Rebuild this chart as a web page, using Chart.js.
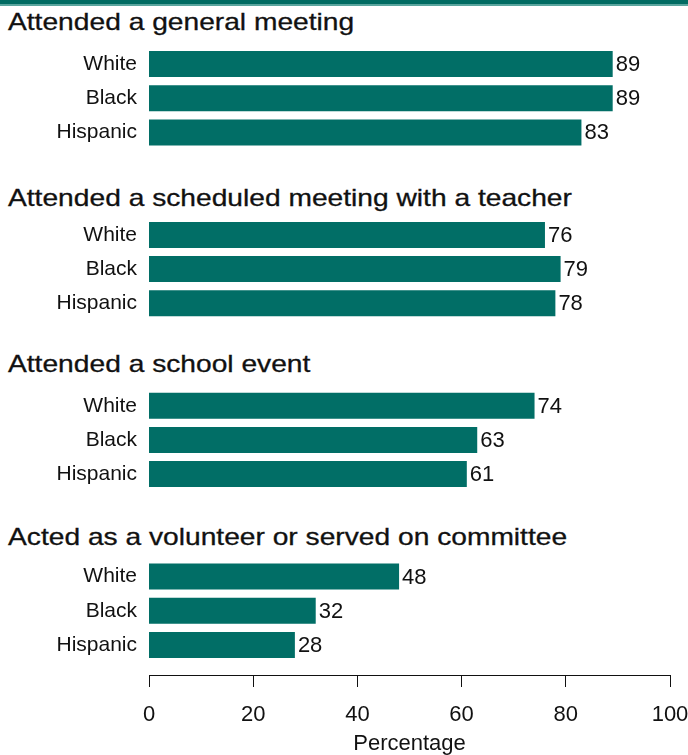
<!DOCTYPE html>
<html>
<head>
<meta charset="utf-8">
<script src="https://cdn.jsdelivr.net/npm/chart.js@4.4.0/dist/chart.umd.min.js"></script>
<style>
  body { margin: 0; background: #fff; }
  #wrap { position: relative; width: 688px; height: 755px; overflow: hidden; font-family: "Liberation Sans", Arial, sans-serif; }
  #topRule { position: absolute; left: 0; top: 0; width: 688px; height: 4px; background: #016b62; border-bottom: 2px solid #5aa59e; }
  .title { position: absolute; left: 8px; font-size: 24px; line-height: 24px; color: #111; white-space: nowrap; transform: scaleX(1.174); transform-origin: 0 0; -webkit-text-stroke: 0.3px #111; }
  #mainChart { position: absolute; left: 0; top: 47px; }
  #axisChart { position: absolute; left: 0; top: 660px; }
</style>
</head>
<body>
<div id="wrap">
  <div id="topRule"></div>
  <div class="title" style="top:10px">Attended a general meeting</div>
  <div class="title" style="top:186px">Attended a scheduled meeting with a teacher</div>
  <div class="title" style="top:352px">Attended a school event</div>
  <div class="title" style="top:525px">Acted as a volunteer or served on committee</div>
  <canvas id="mainChart" width="688" height="615"></canvas>
  <canvas id="axisChart" width="688" height="98"></canvas>
</div>
<script>
const FONT = "'Liberation Sans', Arial, sans-serif";
const BAR_COLOR = "#016e66";
const TEXT_COLOR = "#111";

// data
const races = ["White", "Black", "Hispanic"];
const generalMeeting = [89, 89, 83];
const teacherMeeting = [76, 79, 78];
const schoolEvent = [74, 63, 61];
const volunteerCommittee = [48, 32, 28];
const xTicks = [0, 20, 40, 60, 80, 100];

// one row per bar, two empty rows between groups (room for the group titles)
const groups = [generalMeeting, teacherMeeting, schoolEvent, volunteerCommittee];
const rowLabels = [];
const rowValues = [];
groups.forEach((values, g) => {
  if (g > 0) {
    rowLabels.push("", "");
    rowValues.push(null, null);
  }
  races.forEach((race, i) => {
    rowLabels.push(race);
    rowValues.push(values[i]);
  });
});

const valueLabels = {
  id: "valueLabels",
  afterDatasetsDraw(chart) {
    const c = chart.ctx;
    const values = chart.data.datasets[0].data;
    c.save();
    c.font = "22px " + FONT;
    c.fillStyle = TEXT_COLOR;
    c.textBaseline = "middle";
    chart.getDatasetMeta(0).data.forEach((bar, i) => {
      if (values[i] == null) return;
      c.fillText(values[i], bar.x + 3, bar.y + 1);
    });
    c.restore();
  }
};

new Chart(document.getElementById("mainChart"), {
  type: "bar",
  data: {
    labels: rowLabels,
    datasets: [{
      data: rowValues,
      backgroundColor: BAR_COLOR,
      barPercentage: 0.76,
      categoryPercentage: 1
    }]
  },
  options: {
    indexAxis: "y",
    responsive: false,
    animation: false,
    layout: { padding: { left: 0, right: 18, top: 0, bottom: 0 } },
    plugins: { legend: { display: false }, tooltip: { enabled: false } },
    scales: {
      x: { display: false, min: 0, max: 100 },
      y: {
        grid: { display: false, drawTicks: false },
        border: { display: false },
        ticks: { color: TEXT_COLOR, font: { family: FONT, size: 21 }, padding: 12, autoSkip: false },
        afterFit(scale) {
          scale.width = 149;
          scale.paddingTop = 0;
          scale.paddingBottom = 0;
        }
      }
    }
  },
  plugins: [valueLabels]
});

new Chart(document.getElementById("axisChart"), {
  type: "bar",
  data: { labels: [""], datasets: [{ data: [], backgroundColor: BAR_COLOR }] },
  options: {
    indexAxis: "y",
    responsive: false,
    animation: false,
    layout: { padding: { left: 149, right: 18, top: 0, bottom: 0 } },
    plugins: { legend: { display: false }, tooltip: { enabled: false } },
    scales: {
      y: { display: false },
      x: {
        type: "linear",
        min: 0,
        max: 100,
        afterBuildTicks(scale) { scale.ticks = xTicks.map(v => ({ value: v })); },
        grid: { drawOnChartArea: false, drawTicks: true, tickLength: 12, color: TEXT_COLOR },
        border: { display: true, color: TEXT_COLOR, width: 1 },
        ticks: { color: TEXT_COLOR, font: { family: FONT, size: 22 }, padding: 15, maxRotation: 0 },
        title: { display: true, text: "Percentage", color: TEXT_COLOR, font: { family: FONT, size: 22 }, padding: { top: 0, bottom: 1 } },
        afterFit(scale) {
          scale.height = 83;
          scale.paddingLeft = 0;
          scale.paddingRight = 0;
        }
      }
    }
  }
});
</script>
</body>
</html>
